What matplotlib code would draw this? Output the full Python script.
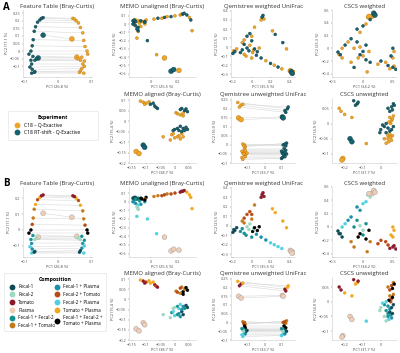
import matplotlib.pyplot as plt
from matplotlib.lines import Line2D

plt.rcParams['font.family'] = ['Open Sans', 'DejaVu Sans']

# Legend groups
exp_labels = ['C18 – Q-Exactive', 'C18 RT-shift - Q-Exactive']
exp_colors = ['#EFA52B', '#17626F']

comp_order = ['Fecal-1', 'Fecal-2', 'Tomato', 'Plasma', 'Fecal-1 + Fecal-2',
              'Fecal-1 + Tomato', 'Fecal-1 + Plasma', 'Fecal-2 + Tomato',
              'Fecal-2 + Plasma', 'Tomato + Plasma', 'Fecal-1 + Fecal-2 + Tomato + Plasma']
comp_colors = ['#0E4B55', '#9ED8C0', '#8B1A2B', '#F0CDB5', '#16908F',
               '#C47A1C', '#1A8FA8', '#B84A14', '#4DD0E0', '#F2A81C', '#000000']

# composition of each sample (same samples in both experiments)
sample_comp = ['Tomato', 'Tomato + Plasma', 'Fecal-2 + Tomato', 'Tomato + Plasma',
               'Fecal-1 + Tomato', 'Plasma', 'Fecal-1 + Tomato', 'Fecal-2 + Tomato',
               'Fecal-1 + Fecal-2 + Tomato + Plasma', 'Fecal-1 + Fecal-2 + Tomato + Plasma',
               'Fecal-1 + Fecal-2', 'Fecal-2', 'Fecal-1 + Plasma', 'Fecal-2 + Plasma',
               'Fecal-1 + Plasma', 'Fecal-1', 'Fecal-2 + Plasma', 'Plasma',
               'Tomato', 'Fecal-1', 'Fecal-2', 'Fecal-1 + Fecal-2']

# Feature Table (Bray-Curtis)
ft_qe_x = [0.045, 0.055, 0.062, 0.068, 0.075, 0.042, 0.078, 0.082, 0.088, 0.09, 0.072,
           0.068, 0.075, 0.08, 0.072, 0.068, 0.078, 0.057, 0.05, 0.065, 0.06, 0.08]
ft_qe_y = [0.215, 0.2, 0.185, 0.155, 0.12, 0.08, 0.07, 0.03, 0.0, -0.02, -0.04,
           -0.06, -0.085, -0.1, -0.115, -0.13, -0.145, -0.04, 0.21, -0.14, -0.05, -0.065]
ft_rt_x = [-0.045, -0.055, -0.062, -0.068, -0.072, -0.045, -0.075, -0.078, -0.082, -0.088, -0.076,
           -0.07, -0.08, -0.085, -0.078, -0.07, -0.08, -0.06, -0.05, -0.072, -0.065, -0.082]
ft_rt_y = [0.22, 0.205, 0.19, 0.16, 0.13, 0.105, 0.075, 0.035, 0.0, -0.02, -0.035,
           -0.06, -0.085, -0.105, -0.12, -0.135, -0.145, -0.045, 0.215, -0.14, -0.05, -0.06]

# MEMO unaligned (Bray-Curtis)
mu_qe_x = [0.22, 0.29, 0.18, 0.31, 0.02, 0.1, 0.12, 0.08, -0.04, -0.07, -0.1,
           -0.13, -0.05, -0.11, -0.08, -0.12, 0.04, 0.21, 0.23, -0.11, -0.1, -0.09]
mu_qe_y = [0.11, 0.08, 0.1, -0.08, 0.06, -0.41, 0.09, 0.07, 0.05, 0.03, 0.04,
           -0.01, 0.0, -0.17, -0.03, 0.05, -0.37, -0.56, 0.12, 0.03, -0.09, 0.01]
mu_rt_x = [0.24, 0.27, 0.15, 0.3, 0.05, 0.15, -0.05, 0.1, -0.08, -0.05, -0.13,
           -0.1, -0.14, -0.1, -0.12, -0.14, -0.03, 0.17, 0.25, -0.13, -0.11, -0.12]
mu_rt_y = [0.12, 0.11, 0.09, 0.05, 0.07, -0.57, 0.03, 0.08, 0.04, 0.02, 0.02,
           -0.08, 0.0, -0.04, -0.02, 0.04, -0.2, -0.55, 0.13, 0.05, -0.06, 0.03]

# Qemistree weighted UniFrac
qw_qe_x = [0.1, 0.22, -0.08, 0.37, 0.03, 0.41, -0.1, 0.0, 0.08, 0.01, -0.08,
           -0.02, 0.15, 0.24, 0.0, -0.16, 0.32, 0.44, 0.13, -0.19, 0.02, -0.06]
qw_qe_y = [0.3, 0.18, 0.08, -0.02, 0.22, -0.26, 0.05, 0.12, -0.01, -0.06, -0.08,
           0.02, -0.15, -0.2, -0.12, -0.02, -0.24, -0.28, 0.31, -0.04, -0.03, -0.1]
qw_rt_x = [0.12, 0.25, -0.05, 0.33, 0.0, 0.42, -0.08, -0.02, 0.03, 0.06, -0.1,
           -0.05, 0.1, 0.2, 0.05, -0.18, 0.28, 0.43, 0.11, -0.2, -0.03, -0.12]
qw_rt_y = [0.35, 0.14, 0.12, 0.05, 0.07, -0.27, 0.03, 0.15, -0.02, -0.05, -0.03,
           -0.01, -0.12, -0.18, -0.09, -0.05, -0.22, -0.29, 0.33, -0.07, -0.04, -0.06]

# CSCS weighted
cw_qe_x = [0.45, 0.52, 0.38, 0.5, 0.07, 0.15, -0.2, 0.25, -0.08, 0.1, -0.15,
           0.08, -0.25, -0.35, -0.05, -0.4, 0.05, 0.1, 0.52, -0.35, -0.05, 0.0]
cw_qe_y = [-0.32, -0.05, -0.22, -0.15, -0.37, 0.5, -0.22, -0.25, -0.15, -0.05, 0.0,
           0.48, 0.1, 0.0, 0.25, -0.1, 0.38, 0.5, -0.28, -0.15, 0.02, -0.12]
cw_rt_x = [0.5, 0.5, 0.42, 0.47, 0.12, 0.18, -0.15, 0.3, -0.05, 0.05, -0.1,
           0.12, -0.2, -0.3, -0.1, -0.42, 0.0, 0.2, 0.55, -0.38, 0.0, 0.05]
cw_rt_y = [-0.3, 0.0, -0.27, -0.12, -0.22, 0.55, -0.3, -0.2, -0.1, -0.18, 0.1,
           0.45, 0.15, 0.05, 0.3, -0.06, 0.35, 0.52, -0.33, -0.1, -0.05, 0.05]

# MEMO aligned (Bray-Curtis)
ma_qe_x = [-0.11, -0.12, -0.1, -0.09, 0.005, -0.135, 0.02, 0.01, 0.03, 0.03, -0.01,
           -0.04, 0.015, 0.0, 0.02, 0.025, -0.005, -0.125, -0.105, 0.03, -0.015, 0.01]
ma_qe_y = [0.09, 0.095, 0.085, 0.092, 0.04, -0.145, 0.03, 0.035, 0.038, 0.025, -0.065,
           -0.075, -0.07, -0.08, -0.085, -0.06, -0.06, -0.155, 0.08, -0.075, -0.09, -0.075]
ma_rt_x = [-0.07, -0.085, -0.065, -0.075, 0.025, -0.11, 0.035, 0.02, 0.04, 0.045, 0.01,
           0.0, 0.03, 0.015, 0.025, 0.04, 0.02, -0.105, -0.06, 0.045, -0.005, 0.035]
ma_rt_y = [0.072, 0.08, 0.065, 0.085, 0.06, -0.115, 0.05, 0.055, 0.058, 0.045, -0.035,
           -0.04, -0.035, -0.045, -0.05, -0.03, -0.025, -0.125, 0.06, -0.04, -0.045, -0.045]

# Qemistree unweighted UniFrac
qu_qe_x = [-0.14, -0.16, -0.12, -0.13, -0.115, -0.155, -0.13, -0.125, -0.12, -0.115, -0.125,
           -0.13, -0.12, -0.135, -0.115, -0.11, -0.13, -0.14, -0.15, -0.105, -0.125, -0.135]
qu_qe_y = [0.22, 0.235, 0.0, 0.225, -0.01, 0.15, 0.005, -0.005, -0.02, -0.03, -0.04,
           -0.045, -0.055, -0.07, -0.065, -0.05, -0.08, 0.14, 0.21, -0.045, -0.05, -0.035]
qu_rt_x = [0.12, 0.135, 0.11, 0.14, 0.13, 0.105, 0.125, 0.12, 0.115, 0.125, 0.11,
           0.105, 0.115, 0.105, 0.12, 0.13, 0.1, 0.11, 0.125, 0.12, 0.11, 0.1]
qu_rt_y = [0.19, 0.2, 0.0, 0.21, 0.01, 0.155, -0.005, 0.005, -0.02, -0.03, -0.04,
           -0.045, -0.055, -0.07, -0.065, -0.05, -0.075, 0.15, 0.18, -0.045, -0.05, -0.035]

# CSCS unweighted
cu_qe_x = [-0.22, -0.2, 0.06, -0.16, 0.05, -0.21, 0.07, 0.055, 0.065, 0.045, 0.04,
           0.02, 0.055, -0.08, 0.06, 0.05, 0.045, -0.215, -0.23, 0.065, 0.03, 0.04]
cu_qe_y = [0.04, 0.03, 0.01, 0.02, 0.02, -0.115, 0.025, 0.0, 0.015, 0.005, -0.04,
           -0.05, -0.045, -0.066, -0.055, -0.035, -0.06, -0.12, 0.05, -0.04, -0.065, -0.05]
cu_rt_x = [-0.15, -0.13, 0.06, -0.14, 0.04, -0.17, 0.07, 0.05, 0.075, 0.065, 0.02,
           0.0, 0.04, 0.01, 0.05, 0.06, 0.03, -0.16, -0.125, 0.07, -0.005, 0.03]
cu_rt_y = [0.075, 0.065, 0.055, 0.06, 0.05, -0.05, 0.065, 0.04, 0.06, 0.045, -0.01,
           -0.02, -0.015, -0.005, -0.025, -0.02, 0.0, -0.06, 0.07, -0.01, -0.03, -0.03]

methods = {
    'ft': dict(title='Feature Table (Bray-Curtis)', xl='PC1 (26.8 %)', yl='PC2 (11.1 %)',
               qe=(ft_qe_x, ft_qe_y), rt=(ft_rt_x, ft_rt_y), lines=True,
               xlim=(-0.106, 0.103), ylim=(-0.17, 0.27), xt=[-0.1, 0, 0.1],
               yt=[-0.1, -0.05, 0, 0.05, 0.1, 0.15, 0.2, 0.25], ytb=[-0.1, 0, 0.1, 0.2]),
    'mu': dict(title='MEMO unaligned (Bray-Curtis)', xl='PC1 (25.5 %)', yl='PC2 (14.6 %)',
               qe=(mu_qe_x, mu_qe_y), rt=(mu_rt_x, mu_rt_y), lines=False,
               xlim=(-0.17, 0.34), ylim=(-0.64, 0.17), xt=[0, 0.2],
               yt=[-0.6, -0.5, -0.4, -0.3, -0.2, -0.1, 0, 0.1]),
    'qw': dict(title='Qemistree weighted UniFrac', xl='PC1 (35.5 %)', yl='PC2 (23.5 %)',
               qe=(qw_qe_x, qw_qe_y), rt=(qw_rt_x, qw_rt_y), lines=False,
               xlim=(-0.22, 0.46), ylim=(-0.33, 0.41), xt=[-0.2, 0, 0.2, 0.4],
               yt=[-0.3, -0.2, -0.1, 0, 0.1, 0.2, 0.3, 0.4]),
    'cw': dict(title='CSCS weighted', xl='PC1 (34.2 %)', yl='PC2 (25.3 %)',
               qe=(cw_qe_x, cw_qe_y), rt=(cw_rt_x, cw_rt_y), lines=False,
               xlim=(-0.52, 0.57), ylim=(-0.45, 0.6), xt=[-0.5, 0, 0.5],
               yt=[-0.4, -0.2, 0, 0.2, 0.4, 0.6]),
    'ma': dict(title='MEMO aligned (Bray-Curtis)', xl='PC1 (38.7 %)', yl='PC2 (15.4 %)',
               qe=(ma_qe_x, ma_qe_y), rt=(ma_rt_x, ma_rt_y), lines=False,
               xlim=(-0.16, 0.075), ylim=(-0.19, 0.11), xt=[-0.15, -0.1, -0.05, 0, 0.05],
               yt=[-0.2, -0.15, -0.1, -0.05, 0, 0.05, 0.1]),
    'qu': dict(title='Qemistree unweighted UniFrac', xl='PC1 (33.7 %)', yl='PC2 (16.9 %)',
               qe=(qu_qe_x, qu_qe_y), rt=(qu_rt_x, qu_rt_y), lines=True,
               xlim=(-0.2, 0.18), ylim=(-0.1, 0.26), xt=[-0.1, 0, 0.1],
               yt=[-0.1, -0.05, 0, 0.05, 0.1, 0.15, 0.2, 0.25]),
    'cu': dict(title='CSCS unweighted', xl='PC1 (31.7 %)', yl='PC2 (14.9 %)',
               qe=(cu_qe_x, cu_qe_y), rt=(cu_rt_x, cu_rt_y), lines=False,
               xlim=(-0.27, 0.09), ylim=(-0.13, 0.084), xt=[-0.2, -0.1, 0],
               yt=[-0.1, -0.05, 0, 0.05]),
}

W, H = 400, 353
fig = plt.figure(figsize=(W / 100, H / 100), dpi=100)

cols = {1: (23, 92), 2: (129, 196), 3: (231, 295), 4: (332, 397)}
rows = {1: (10, 77), 2: (98, 163), 3: (187, 257), 4: (277, 340)}

comp_col = dict(zip(comp_order, comp_colors))


def fmt(v):
    return f"{v:g}".replace('-', '\u2212') if v != 0 else '0'


def make_ax(row, col):
    l, r = cols[col]
    t, b = rows[row]
    return fig.add_axes([l / W, 1 - b / H, (r - l) / W, (b - t) / H])


def draw(ax, m, by_comp):
    qx, qy = m['qe']
    rx, ry = m['rt']
    if m['lines']:
        for i in range(len(qx)):
            ax.plot([qx[i], rx[i]], [qy[i], ry[i]], color='#d4d4d4', lw=0.35, zorder=1)
    sizes = [12 if c == 'Plasma' else 4.5 for c in sample_comp]
    if by_comp:
        cc = [comp_col[c] for c in sample_comp]
        ec = ['#999999' if c == 'Plasma' else comp_col[c] for c in sample_comp]
        for xs, ys in [(qx, qy), (rx, ry)]:
            ax.scatter(xs, ys, s=sizes, c=cc, edgecolors=ec, linewidths=0.3, zorder=3)
    else:
        ax.scatter(qx, qy, s=sizes, c=exp_colors[0], edgecolors='#B97A10', linewidths=0.3, zorder=3)
        ax.scatter(rx, ry, s=sizes, c=exp_colors[1], edgecolors='#0B3A42', linewidths=0.3, zorder=3)
    ax.set_xlim(*m['xlim'])
    ax.set_ylim(*m['ylim'])
    yt = m.get('ytb', m['yt']) if by_comp else m['yt']
    ax.set_xticks(m['xt'])
    ax.set_xticklabels([fmt(v) for v in m['xt']])
    ax.set_yticks(yt)
    ax.set_yticklabels([fmt(v) for v in yt])
    ax.tick_params(labelsize=2.8, length=1, width=0.3, pad=1, colors='#555555')
    for s in ['top', 'right']:
        ax.spines[s].set_visible(False)
    for s in ['left', 'bottom']:
        ax.spines[s].set_color('#cccccc')
        ax.spines[s].set_linewidth(0.4)
    ax.set_title(m['title'], fontsize=4.3, pad=1.5, color='#333333')
    ax.set_xlabel(m['xl'], fontsize=2.8, labelpad=1.2, color='#444444')
    ax.set_ylabel(m['yl'], fontsize=2.8, labelpad=1.2, color='#444444')


layout = [('ft', 1, 1), ('mu', 1, 2), ('qw', 1, 3), ('cw', 1, 4),
          ('ma', 2, 2), ('qu', 2, 3), ('cu', 2, 4)]
for key, r, c in layout:
    draw(make_ax(r, c), methods[key], False)
    draw(make_ax(r + 2, c), methods[key], True)

fig.text(3 / W, 1 - 7 / H, 'A', fontsize=7, fontweight='bold', va='center')
fig.text(3 / W, 1 - 184 / H, 'B', fontsize=7, fontweight='bold', va='center')

# Experiment legend
h_exp = [Line2D([], [], marker='o', ls='', markersize=4.2, markerfacecolor=c,
                markeredgecolor='none') for c in exp_colors]
leg1 = fig.legend(h_exp, exp_labels, loc='upper left',
                  bbox_to_anchor=(5 / W, 1 - 148 / H, 95 / W, 40 / H), mode='expand',
                  fontsize=3.6, title='Experiment', title_fontproperties={'weight': 'bold', 'size': 3.8},
                  frameon=True, fancybox=True, edgecolor='#dddddd', handletextpad=0.3,
                  labelspacing=0.5, borderpad=0.9)
leg1.get_frame().set_linewidth(0.5)

# Composition legend
h_comp = [Line2D([], [], marker='o', ls='', markersize=4.2, markerfacecolor=c,
                 markeredgecolor='none') for c in comp_colors]
comp_labels = comp_order[:-1] + ['Fecal-1 + Fecal-2 +\nTomato + Plasma']
leg2 = fig.legend(h_comp, comp_labels, loc='upper left', ncol=2,
                  bbox_to_anchor=(2 / W, 1 - 339 / H, 106 / W, 68 / H), mode='expand',
                  fontsize=3.3, title='Composition', title_fontproperties={'weight': 'bold', 'size': 3.8},
                  frameon=True, fancybox=True, edgecolor='#dddddd', handletextpad=0.3,
                  labelspacing=0.6, borderpad=0.7, columnspacing=0.5)
leg2.get_frame().set_linewidth(0.5)

fig.savefig('out.png', dpi=100)
